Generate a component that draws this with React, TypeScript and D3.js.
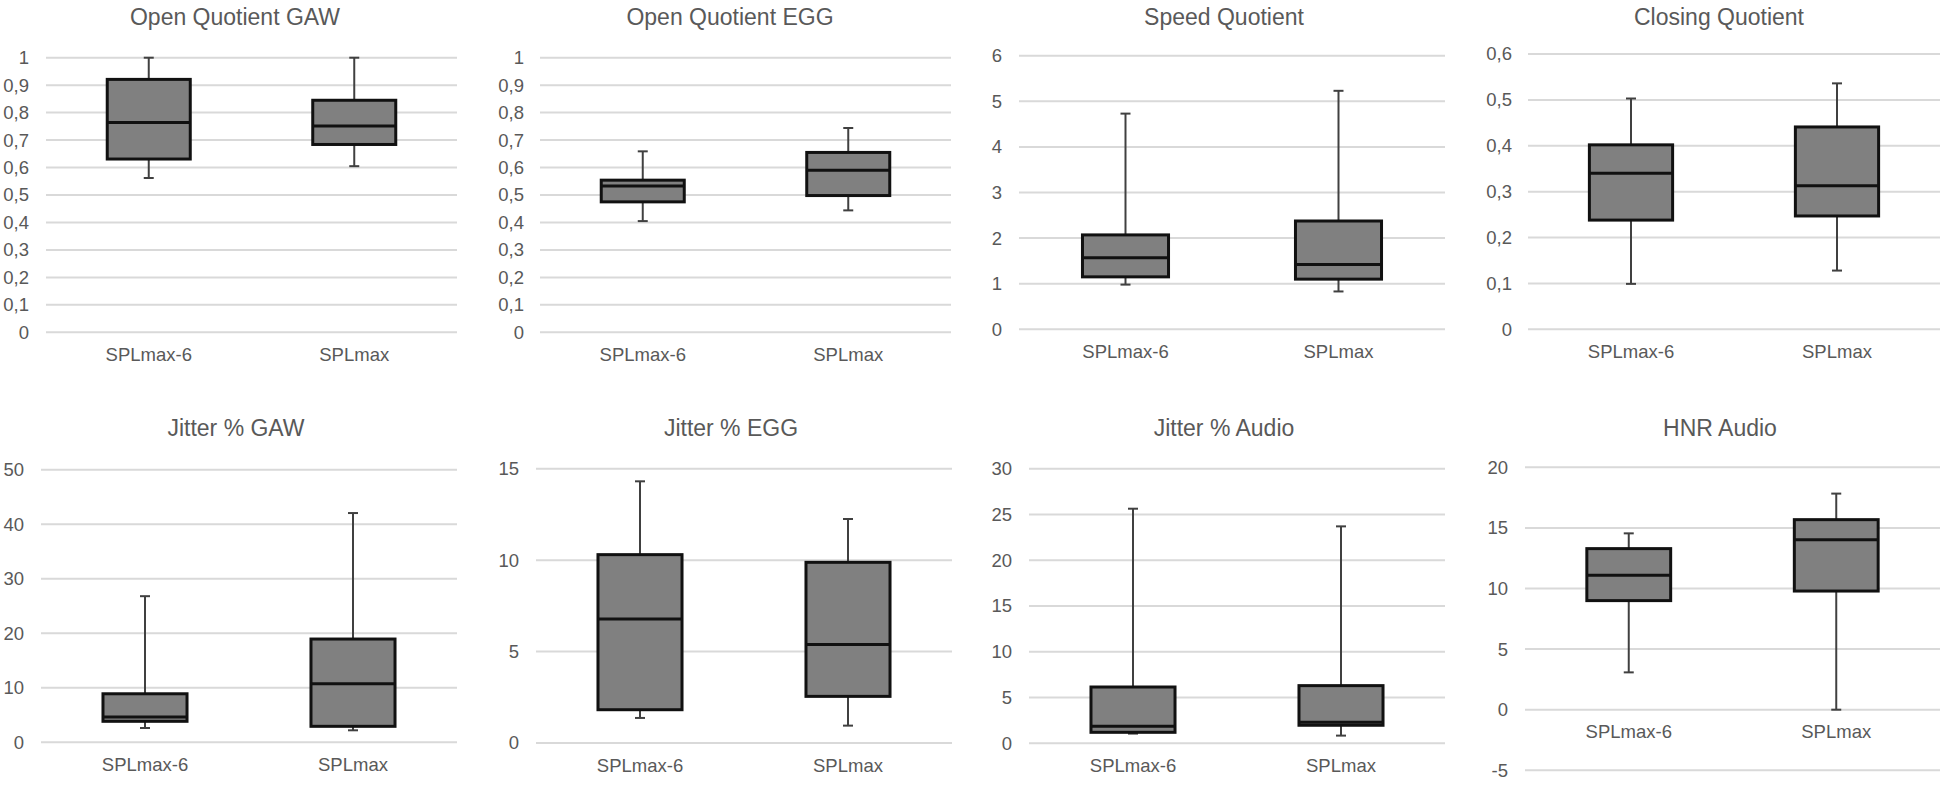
import React from "react";
import * as d3 from "d3";

const categories = ["SPLmax-6", "SPLmax"];
const titles = [
  "Open Quotient GAW",
  "Open Quotient EGG",
  "Speed Quotient",
  "Closing Quotient",
  "Jitter % GAW",
  "Jitter % EGG",
  "Jitter % Audio",
  "HNR Audio",
];

// [min, q1, median, q3, max] per category
const openQuotientGAW = [
  [0.562, 0.631, 0.764, 0.921, 1.0],
  [0.605, 0.684, 0.751, 0.845, 1.0],
];
const openQuotientEGG = [
  [0.405, 0.475, 0.533, 0.554, 0.659],
  [0.444, 0.498, 0.59, 0.655, 0.744],
];
const speedQuotient = [
  [0.98, 1.15, 1.57, 2.07, 4.73],
  [0.83, 1.1, 1.42, 2.375, 5.23],
];
const closingQuotient = [
  [0.099, 0.238, 0.34, 0.402, 0.503],
  [0.128, 0.247, 0.313, 0.441, 0.536],
];
const jitterGAW = [
  [2.62, 3.85, 4.64, 8.9, 26.8],
  [2.2, 2.93, 10.75, 18.94, 42.05],
];
const jitterEGG = [
  [1.37, 1.82, 6.78, 10.3, 14.31],
  [0.95, 2.55, 5.38, 9.88, 12.25],
];
const jitterAudio = [
  [1.06, 1.2, 1.86, 6.15, 25.63],
  [0.84, 1.97, 2.29, 6.3, 23.7],
];
const hnrAudio = [
  [3.08, 9.0, 11.09, 13.29, 14.55],
  [0.0, 9.79, 14.03, 15.68, 17.83],
];

const seriesList = [
  openQuotientGAW,
  openQuotientEGG,
  speedQuotient,
  closingQuotient,
  jitterGAW,
  jitterEGG,
  jitterAudio,
  hnrAudio,
];

const yDomains = [
  [0, 1],
  [0, 1],
  [0, 6],
  [0, 0.6],
  [0, 50],
  [0, 15],
  [0, 30],
  [-5, 20],
];
const yTickSteps = [0.1, 0.1, 1, 0.1, 10, 5, 5, 5];

// layout (pixels) per panel
const layouts = [
  { left: 46, right: 457, top: 57.7, bottom: 332.3, tickRight: 29, titleX: 235, titleY: 25 },
  { left: 540, right: 951, top: 57.7, bottom: 332.3, tickRight: 524, titleX: 730, titleY: 25 },
  { left: 1019, right: 1445, top: 55.7, bottom: 329.3, tickRight: 1002, titleX: 1224, titleY: 25 },
  { left: 1528, right: 1940, top: 54, bottom: 329.3, tickRight: 1512, titleX: 1719, titleY: 25 },
  { left: 41, right: 457, top: 469.7, bottom: 742.3, tickRight: 24, titleX: 236, titleY: 436 },
  { left: 536, right: 952, top: 468.7, bottom: 743, tickRight: 519, titleX: 731, titleY: 436 },
  { left: 1029, right: 1445, top: 468.7, bottom: 743.3, tickRight: 1012, titleX: 1224, titleY: 436 },
  { left: 1525, right: 1940, top: 467.3, bottom: 770.3, tickRight: 1508, titleX: 1720, titleY: 436 },
];

const FONT = "'Liberation Sans', Arial, Helvetica, sans-serif";
const TEXT = "#595959";
const GRID = "#d9d9d9";

function fmt(v: number) {
  const s = d3.format("~g")(Math.round(v * 1000) / 1000);
  return s.replace(".", ",").replace("−", "-");
}

function Panel({ idx }: { idx: number }) {
  const L = layouts[idx];
  const dom = yDomains[idx];
  const step = yTickSteps[idx];
  const data = seriesList[idx];
  const y = d3.scaleLinear().domain(dom).range([L.bottom, L.top]);
  const x = d3.scaleBand().domain(categories).range([L.left, L.right]).paddingInner(0).paddingOuter(0);
  const ticks = d3.range(dom[0], dom[1] + step / 2, step).map((t) => Math.round(t * 1000) / 1000);
  const boxW = x.bandwidth() * 0.404;
  const capW = 10;
  const zeroY = y(Math.max(0, dom[0]));
  return (
    <g>
      <text
        x={L.titleX}
        y={L.titleY}
        textAnchor="middle"
        fontFamily={FONT}
        fontSize={23}
        fill={TEXT}
      >
        {titles[idx]}
      </text>
      {ticks.map((t) => (
        <g key={t}>
          <line x1={L.left} x2={L.right} y1={y(t)} y2={y(t)} stroke={GRID} strokeWidth={2} />
          <text
            x={L.tickRight}
            y={y(t)}
            dy="0.35em"
            textAnchor="end"
            fontFamily={FONT}
            fontSize={18.5}
            fill={TEXT}
          >
            {fmt(t)}
          </text>
        </g>
      ))}
      {categories.map((c, i) => {
        const [mn, q1, md, q3, mx] = data[i];
        const cx = (x(c) as number) + x.bandwidth() / 2;
        return (
          <g key={c}>
            <line x1={cx} x2={cx} y1={y(q3)} y2={y(mx)} stroke="#404040" strokeWidth={2} />
            <line x1={cx} x2={cx} y1={y(q1)} y2={y(mn)} stroke="#404040" strokeWidth={2} />
            <line x1={cx - capW / 2} x2={cx + capW / 2} y1={y(mx)} y2={y(mx)} stroke="#404040" strokeWidth={2} />
            <line x1={cx - capW / 2} x2={cx + capW / 2} y1={y(mn)} y2={y(mn)} stroke="#404040" strokeWidth={2} />
            <rect
              x={cx - boxW / 2}
              y={y(q3)}
              width={boxW}
              height={y(q1) - y(q3)}
              fill="#808080"
              stroke="#111"
              strokeWidth={3}
            />
            <line x1={cx - boxW / 2} x2={cx + boxW / 2} y1={y(md)} y2={y(md)} stroke="#111" strokeWidth={3} />
            <text
              x={cx}
              y={zeroY + 28.7}
              textAnchor="middle"
              fontFamily={FONT}
              fontSize={18.5}
              fill={TEXT}
            >
              {c}
            </text>
          </g>
        );
      })}
    </g>
  );
}

export default function App() {
  return (
    <svg
      width={1946}
      height={786}
      style={{ position: "absolute", left: 0, top: 0, background: "#fff" }}
    >
      <rect x={0} y={0} width={1946} height={786} fill="#fff" />
      {layouts.map((_, i) => (
        <Panel key={i} idx={i} />
      ))}
    </svg>
  );
}
